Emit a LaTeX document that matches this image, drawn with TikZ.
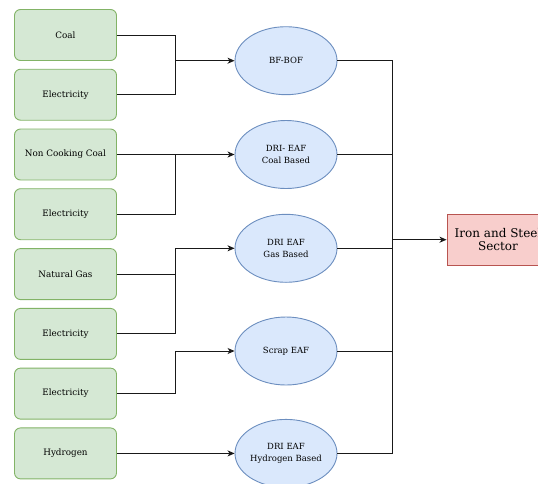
\documentclass[tikz,border=0pt]{standalone}
\usepackage{fontspec}
\setmainfont{DejaVu Serif}
\usetikzlibrary{arrows.meta,shapes.geometric}
\definecolor{gfill}{HTML}{D5E8D4}
\definecolor{gline}{HTML}{82B366}
\definecolor{bfill}{HTML}{DAE8FC}
\definecolor{bline}{HTML}{6C8EBF}
\definecolor{rfill}{HTML}{F8CECC}
\definecolor{rline}{HTML}{B85450}
\begin{document}
\begin{tikzpicture}[x=1pt,y=-1pt,
  src/.style={draw=gline,fill=gfill,line width=0.9pt,rounded corners=6pt,minimum width=102pt,minimum height=51pt,inner sep=0pt,font=\fontsize{8.8}{11}\selectfont,text=black},
  proc/.style={ellipse,draw=bline,fill=bfill,line width=0.9pt,minimum width=102pt,minimum height=68pt,inner sep=0pt,align=center,font=\fontsize{8.5}{12.5}\selectfont,text=black},
  sink/.style={draw=rline,fill=rfill,line width=0.9pt,minimum width=102pt,minimum height=51pt,inner sep=0pt,align=center,font=\fontsize{12}{13.5}\selectfont,text=black},
  conn/.style={line width=0.9pt,draw=black!90},
  arr/.style={conn,-{Stealth[length=7pt,width=6pt,inset=2pt]}}]
\useasboundingbox (0,0) rectangle (538,483);
% sources
\node[src] (s1) at (65.5,35) {Coal};
\node[src] (s2) at (65.5,94.7) {Electricity};
\node[src] (s3) at (65.5,154.5) {Non Cooking Coal};
\node[src] (s4) at (65.5,214.2) {Electricity};
\node[src] (s5) at (65.5,274.1) {Natural Gas};
\node[src] (s6) at (65.5,333.9) {Electricity};
\node[src] (s7) at (65.5,393.6) {Electricity};
\node[src] (s8) at (65.5,453.4) {Hydrogen};
% processes
\node[proc] (p1) at (286,60.7) {BF-BOF};
\node[proc] (p2) at (286,154.5) {DRI- EAF\\Coal Based};
\node[proc] (p3) at (286,248.3) {DRI EAF\\Gas Based};
\node[proc] (p4) at (286,351) {Scrap EAF};
\node[proc] (p5) at (286,453.4) {DRI EAF\\Hydrogen Based};
% sink
\node[sink] (t) at (498,239.7) {Iron and Steel\\Sector};
% junctions
\coordinate (j1) at (175.7,60.7);
\coordinate (j2) at (175.7,154.5);
\coordinate (j3) at (175.7,248.3);
\coordinate (j4) at (175.7,351);
\coordinate (k) at (392.3,239.7);
% edges
\draw[conn] (s1.east) -| (j1);
\draw[conn] (s2.east) -| (j1);
\draw[arr] (j1) -- (p1.west);
\draw[arr] (s3.east) -- (p2.west);
\draw[conn] (s4.east) -| (j2);
\draw[conn] (s5.east) -| (j3);
\draw[conn] (s6.east) -| (j3);
\draw[arr] (j3) -- (p3.west);
\draw[conn] (s7.east) -| (j4);
\draw[arr] (j4) -- (p4.west);
\draw[arr] (s8.east) -- (p5.west);
\foreach \p in {p1,p2,p3,p4,p5} \draw[conn] (\p.east) -| (k);
\draw[arr] (k) -- (t.west);
\end{tikzpicture}
\end{document}
